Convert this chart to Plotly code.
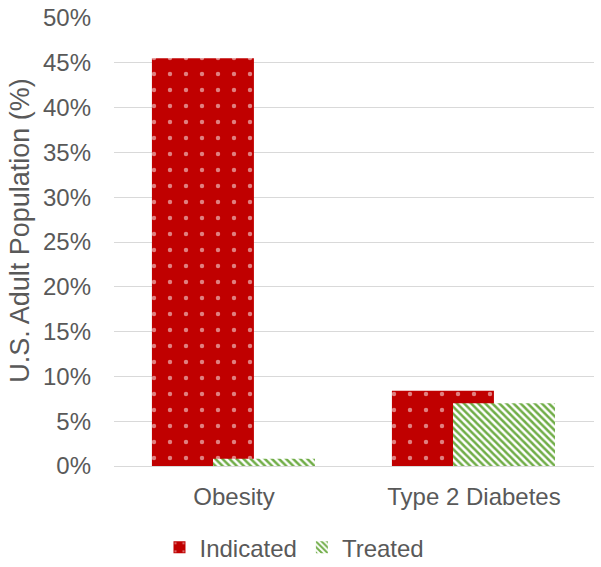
import plotly.graph_objects as go

categories = ["Obesity", "Type 2 Diabetes"]
indicated = [45.5, 8.4]
treated = [0.8, 7.0]
tick_vals = [0, 5, 10, 15, 20, 25, 30, 35, 40, 45, 50]
tick_text = [f"{v}%" for v in tick_vals]
y_title = "U.S. Adult Population (%)"

fig = go.Figure()
fig.add_trace(go.Bar(
    x=categories, y=indicated, name="Indicated",
    width=0.425, offset=-0.342,
    marker=dict(color="#C00000", line=dict(width=0),
                pattern=dict(shape=".", fgcolor="white", bgcolor="#C00000",
                             size=16, solidity=0.06, fillmode="overlay")),
))
fig.add_trace(go.Bar(
    x=categories, y=treated, name="Treated",
    width=0.425, offset=-0.0875,
    marker=dict(color="white", line=dict(width=0),
                pattern=dict(shape="\\", fgcolor="#70AD47", bgcolor="white",
                             size=5, solidity=0.5, fillmode="replace")),
))

fig.add_annotation(
    text=y_title, textangle=-90, xref="paper", yref="paper",
    x=-0.196, y=0.527, xanchor="center", yanchor="middle", showarrow=False,
    font=dict(size=27, color="#595959"),
)

fig.update_layout(
    width=601, height=567,
    barmode="overlay",
    paper_bgcolor="white", plot_bgcolor="white",
    margin=dict(l=114, r=7, t=18, b=101, autoexpand=False),
    font=dict(family="Liberation Sans, Arial, sans-serif", color="#595959", size=24),
    showlegend=True,
    legend=dict(orientation="h", xref="container", yref="container",
                x=0.49, xanchor="center", y=0.034, yanchor="middle",
                font=dict(size=24, color="#595959"), itemwidth=30, traceorder="normal"),
    xaxis=dict(showgrid=False, showline=True, linecolor="#D9D9D9", linewidth=1,
               ticks="", automargin=False, ticklabelstandoff=9,
               tickfont=dict(size=24, color="#595959")),
    yaxis=dict(range=[0, 50], tickvals=tick_vals, ticktext=tick_text,
               showgrid=True, gridcolor="#D9D9D9", gridwidth=1, zeroline=False,
               showline=False, ticks="", ticklen=0, ticklabelstandoff=22,
               automargin=False,
               tickfont=dict(size=24, color="#595959")),
)

fig.write_html("out.html", config={"displayModeBar": False},
               post_script="document.body.style.margin='0';")
